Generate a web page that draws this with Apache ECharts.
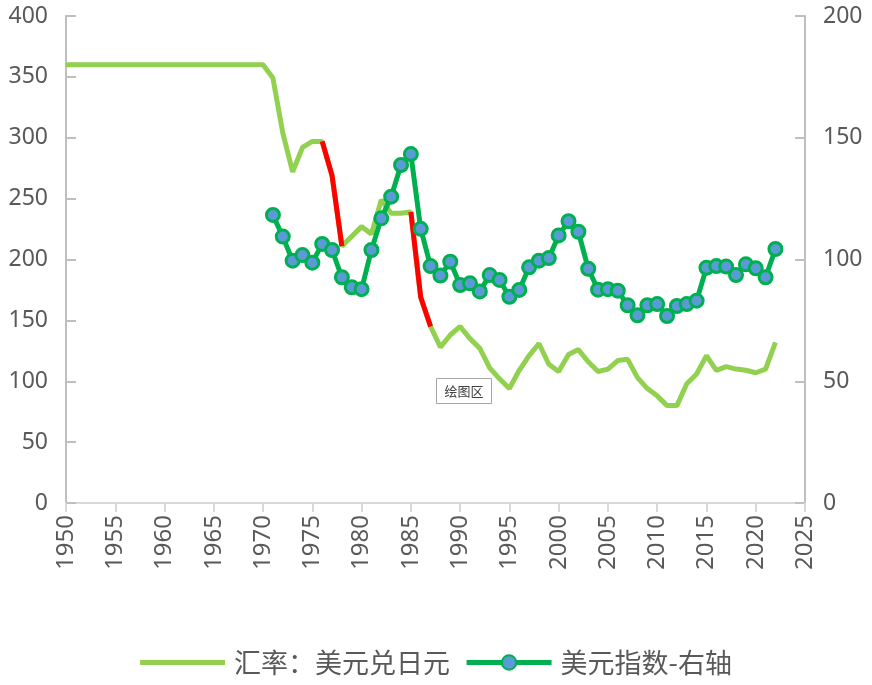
<!DOCTYPE html>
<html>
<head>
<meta charset="utf-8">
<script src="https://cdn.jsdelivr.net/npm/echarts@6/dist/echarts.min.js"></script>
<style>
html,body{margin:0;padding:0;background:#fff;}
#chart{width:872px;height:685px;}
</style>
</head>
<body>
<div id="chart"></div>
<script>
// Years 1950..2022
var startYear = 1950;
// 汇率：美元兑日元 (left axis), one value per year 1950..2022
var rateValues = [
  360,360,360,360,360,360,360,360,360,360,
  360,360,360,360,360,360,360,360,360,360,
  360,349,304,272,292,297,297,269,211,219,
  227,221,249,238,238,239,169,145,128,138,
  145,135,127,111,102,94,109,121,131,114,
  108,122,126,116,108,110,117,118,103,94,
  88,80,80,98,106,121,109,112,110,109,
  107,110,132
];
// 美元指数 (right axis), one value per year 1971..2022
var indexStartYear = 1971;
var indexValues = [
  118.3,109.4,99.5,101.8,98.7,106.4,103.9,92.7,88.6,87.8,
  103.9,116.9,125.8,138.8,143.3,112.6,97.3,93.4,99.1,89.5,
  90.2,86.9,93.6,91.6,84.7,87.5,96.8,99.5,100.6,109.9,
  115.7,111.4,96.2,87.6,87.8,87.2,81.2,77.1,81.2,81.7,
  76.8,80.9,81.7,83.1,96.6,97.3,97.1,93.6,98.0,96.4,
  92.7,104.3
];
// Periods highlighted in red on the exchange-rate line
var redPeriods = [[1976, 1978], [1985, 1987]];

var rateName = '汇率：美元兑日元';
var indexName = '美元指数-右轴';
var xTicks = {min: 1950, max: 2025, interval: 5};
var leftTicks = {min: 0, max: 400, interval: 50};
var rightTicks = {min: 0, max: 200, interval: 50};

var rateData = rateValues.map(function (v, i) { return [startYear + i, v]; });
var indexData = indexValues.map(function (v, i) { return [indexStartYear + i, v]; });

var redSeries = redPeriods.map(function (p) {
  return {
    name: 'red' + p[0],
    type: 'line',
    yAxisIndex: 0,
    symbol: 'none',
    silent: true,
    z: 3,
    lineStyle: {color: '#FF0000', width: 5},
    data: rateData.filter(function (d) { return d[0] >= p[0] && d[0] <= p[1]; })
  };
});

var labelColor = '#595959';
var font = '"Noto Sans", "Noto Sans CJK SC", sans-serif';

var chart = echarts.init(document.getElementById('chart'), null, {renderer: 'canvas'});
chart.setOption({
  animation: false,
  backgroundColor: '#ffffff',
  grid: {left: 66, right: 67, top: 16, bottom: 182, containLabel: false},
  legend: {
    data: [
      {name: rateName, icon: 'path://M0,0 L0,0 M0,6.5 L85,6.5 L85,11.5 L0,11.5 Z M0,18 L0,18'},
      {name: indexName}
    ],
    bottom: 4,
    left: 'center',
    itemWidth: 85,
    itemHeight: 18,
    itemGap: 14,
    lineStyle: {width: 5},
    textStyle: {fontSize: 27, color: labelColor, fontFamily: '"Noto Sans CJK SC", sans-serif', padding: [0, 0, 0, 4]}
  },
  xAxis: {
    type: 'value',
    min: xTicks.min, max: xTicks.max, interval: xTicks.interval,
    axisLine: {show: true, lineStyle: {color: '#d9d9d9', width: 2}},
    axisTick: {show: true, inside: false, length: 9, lineStyle: {color: '#d9d9d9', width: 2}},
    splitLine: {show: false},
    axisLabel: {rotate: 90, fontSize: 24, color: labelColor, margin: 12, fontFamily: font,
      formatter: function (v) { return String(v); }}
  },
  yAxis: [
    {
      type: 'value', position: 'left',
      min: leftTicks.min, max: leftTicks.max, interval: leftTicks.interval,
      axisLine: {show: true, lineStyle: {color: '#bfbfbf', width: 2}},
      axisTick: {show: true, inside: true, length: 10, lineStyle: {color: '#bfbfbf', width: 2}},
      splitLine: {show: false},
      axisLabel: {fontSize: 23, color: labelColor, margin: 18, fontFamily: font}
    },
    {
      type: 'value', position: 'right',
      min: rightTicks.min, max: rightTicks.max, interval: rightTicks.interval,
      axisLine: {show: true, lineStyle: {color: '#bfbfbf', width: 2}},
      axisTick: {show: true, inside: true, length: 10, lineStyle: {color: '#bfbfbf', width: 2}},
      splitLine: {show: false},
      axisLabel: {fontSize: 23, color: labelColor, margin: 18, fontFamily: font}
    }
  ],
  series: [
    {
      name: rateName,
      type: 'line',
      yAxisIndex: 0,
      symbol: 'none',
      z: 2,
      color: '#92D050',
      lineStyle: {color: '#92D050', width: 5},
      data: rateData
    }
  ].concat(redSeries).concat([
    {
      name: indexName,
      type: 'line',
      yAxisIndex: 1,
      symbol: 'circle',
      symbolSize: 13,
      showSymbol: true,
      z: 4,
      color: '#00B050',
      lineStyle: {color: '#00B050', width: 5},
      itemStyle: {color: '#5B9BD5', borderColor: '#00B050', borderWidth: 3},
      data: indexData
    }
  ]),
  graphic: [
    {
      type: 'group', left: 436, top: 378,
      children: [
        {type: 'rect', shape: {x: 0, y: 0, width: 55, height: 25},
         style: {fill: '#ffffff', stroke: '#a6a6a6', lineWidth: 1}},
        {type: 'text', style: {x: 27.5, y: 12.5, text: '绘图区', fill: '#404040',
         font: '13px "Noto Sans CJK SC", sans-serif', textAlign: 'center', textVerticalAlign: 'middle'}}
      ]
    }
  ]
});
</script>
</body>
</html>
